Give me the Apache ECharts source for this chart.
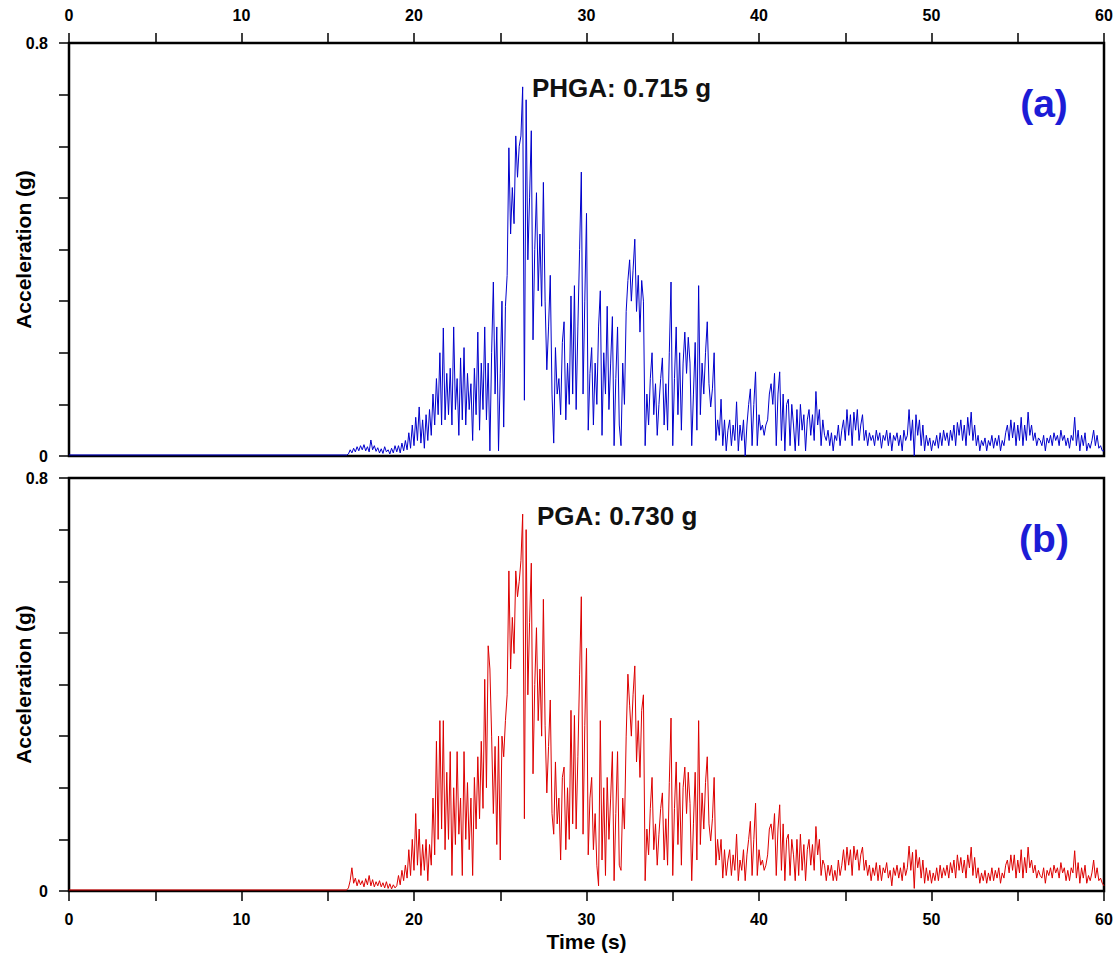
<!DOCTYPE html>
<html>
<head>
<meta charset="utf-8">
<script src="https://cdn.jsdelivr.net/npm/echarts@6/dist/echarts.min.js"></script>
<style>
html,body{margin:0;padding:0;background:#fff;}
#chart{width:1115px;height:956px;}
</style>
</head>
<body>
<div id="chart"></div>
<script>
// Sampling of the traces: first value at T_START, then every T_STEP seconds
const T_START = 16.0;
const T_STEP = 0.1;
const PRE_EVENT = [[0, 0.002]];   // quiet part before the first sample

// (a) horizontal component (blue), values in g, 16.0 s ... 60.0 s
const accA = [
  0.002,0.002,0.004,0.012,0.006,0.015,0.008,0.018,0.010,0.020,
  0.012,0.022,0.010,0.018,0.008,0.031,0.012,0.020,0.009,0.016,
  0.006,0.014,0.005,0.018,0.008,0.012,0.004,0.015,0.006,0.020,
  0.008,0.020,0.006,0.025,0.010,0.030,0.012,0.045,0.015,0.060,
  0.020,0.075,0.030,0.095,0.025,0.070,0.015,0.080,0.030,0.090,
  0.040,0.120,0.060,0.150,0.080,0.200,0.060,0.248,0.070,0.160,
  0.080,0.170,0.060,0.250,0.090,0.150,0.040,0.190,0.070,0.210,
  0.060,0.160,0.090,0.140,0.030,0.170,0.080,0.240,0.050,0.180,
  0.090,0.250,0.070,0.180,0.010,0.200,0.337,0.120,0.250,0.010,
  0.160,0.300,0.056,0.290,0.350,0.597,0.430,0.520,0.450,0.620,
  0.540,0.600,0.620,0.715,0.108,0.690,0.380,0.500,0.630,0.225,
  0.400,0.510,0.320,0.430,0.290,0.530,0.300,0.167,0.250,0.350,
  0.120,0.025,0.210,0.120,0.150,0.080,0.220,0.260,0.070,0.180,
  0.100,0.310,0.120,0.330,0.090,0.250,0.400,0.550,0.120,0.300,
  0.470,0.050,0.160,0.210,0.060,0.180,0.100,0.250,0.320,0.040,
  0.200,0.120,0.290,0.090,0.180,0.270,0.020,0.150,0.250,0.060,
  0.020,0.180,0.100,0.280,0.340,0.380,0.300,0.360,0.420,0.280,
  0.350,0.240,0.340,0.300,0.020,0.120,0.060,0.150,0.200,0.080,
  0.140,0.040,0.100,0.150,0.190,0.060,0.140,0.050,0.200,0.337,
  0.020,0.150,0.250,0.080,0.200,0.050,0.180,0.240,0.160,0.230,
  0.180,0.020,0.120,0.220,0.050,0.330,0.080,0.180,0.120,0.200,
  0.260,0.140,0.095,0.130,0.200,0.030,0.070,0.040,0.110,0.020,
  0.070,0.010,0.050,0.070,0.020,0.060,0.030,0.105,0.010,0.060,
  0.030,0.070,0.000,0.060,0.100,0.130,0.020,0.100,0.163,0.020,
  0.080,0.050,0.060,0.040,0.060,0.070,0.120,0.140,0.100,0.160,
  0.020,0.120,0.163,0.030,0.120,0.010,0.100,0.110,0.020,0.100,
  0.060,0.010,0.090,0.020,0.100,0.050,0.080,0.010,0.070,0.090,
  0.040,0.080,0.030,0.125,0.060,0.090,0.020,0.070,0.040,0.030,
  0.050,0.020,0.045,0.010,0.040,0.030,0.060,0.020,0.050,0.070,
  0.030,0.090,0.040,0.080,0.020,0.085,0.050,0.090,0.030,0.060,
  0.080,0.030,0.050,0.020,0.045,0.030,0.040,0.020,0.050,0.030,
  0.045,0.015,0.040,0.030,0.050,0.020,0.045,0.010,0.040,0.030,
  0.045,0.020,0.040,0.010,0.050,0.030,0.040,0.090,0.030,0.070,
  0.000,0.080,0.040,0.070,0.020,0.060,0.010,0.040,0.020,0.035,
  0.010,0.030,0.020,0.040,0.015,0.045,0.020,0.050,0.030,0.045,
  0.020,0.050,0.030,0.060,0.020,0.065,0.040,0.070,0.030,0.060,
  0.020,0.075,0.040,0.085,0.030,0.060,0.020,0.040,0.010,0.030,
  0.020,0.035,0.010,0.030,0.020,0.040,0.015,0.035,0.020,0.040,
  0.010,0.030,0.020,0.045,0.060,0.030,0.070,0.035,0.065,0.020,
  0.060,0.030,0.075,0.020,0.060,0.030,0.085,0.040,0.060,0.030,
  0.045,0.020,0.035,0.030,0.020,0.040,0.010,0.035,0.025,0.040,
  0.020,0.045,0.030,0.040,0.020,0.050,0.030,0.040,0.020,0.035,
  0.015,0.040,0.030,0.075,0.020,0.050,0.010,0.040,0.020,0.045,
  0.010,0.025,0.015,0.030,0.050,0.020,0.040,0.015,0.020,0.010,
  0.010
];

// (b) recorded ground acceleration (red), values in g, 16.0 s ... 60.0 s
const accB = [
  0.002,0.002,0.006,0.020,0.045,0.015,0.025,0.010,0.022,0.012,
  0.020,0.008,0.024,0.012,0.030,0.010,0.022,0.008,0.018,0.010,
  0.020,0.008,0.016,0.006,0.018,0.005,0.014,0.004,0.012,0.006,
  0.010,0.030,0.012,0.040,0.020,0.050,0.025,0.080,0.030,0.100,
  0.040,0.150,0.050,0.120,0.030,0.090,0.040,0.100,0.020,0.090,
  0.050,0.180,0.070,0.290,0.100,0.330,0.120,0.330,0.080,0.230,
  0.100,0.270,0.030,0.200,0.090,0.270,0.110,0.180,0.030,0.270,
  0.100,0.210,0.080,0.180,0.030,0.220,0.120,0.260,0.140,0.290,
  0.160,0.410,0.200,0.475,0.430,0.300,0.150,0.280,0.090,0.300,
  0.060,0.300,0.260,0.330,0.380,0.620,0.430,0.530,0.460,0.620,
  0.570,0.600,0.640,0.730,0.140,0.700,0.380,0.520,0.635,0.227,
  0.400,0.510,0.330,0.430,0.300,0.565,0.320,0.190,0.280,0.370,
  0.150,0.110,0.250,0.130,0.180,0.060,0.220,0.240,0.080,0.200,
  0.100,0.350,0.130,0.340,0.120,0.260,0.420,0.570,0.110,0.320,
  0.470,0.070,0.180,0.220,0.080,0.150,0.050,0.010,0.330,0.060,
  0.200,0.030,0.220,0.100,0.180,0.270,0.020,0.150,0.270,0.050,
  0.040,0.180,0.120,0.300,0.420,0.360,0.300,0.380,0.436,0.250,
  0.330,0.220,0.350,0.380,0.020,0.120,0.070,0.160,0.220,0.080,
  0.130,0.050,0.110,0.160,0.190,0.060,0.140,0.050,0.210,0.335,
  0.030,0.160,0.250,0.090,0.210,0.050,0.200,0.240,0.150,0.230,
  0.170,0.020,0.130,0.230,0.060,0.330,0.090,0.190,0.120,0.210,
  0.260,0.130,0.097,0.140,0.220,0.050,0.100,0.060,0.100,0.025,
  0.080,0.030,0.060,0.080,0.030,0.070,0.040,0.110,0.020,0.060,
  0.040,0.080,0.020,0.070,0.100,0.135,0.030,0.100,0.170,0.030,
  0.080,0.050,0.060,0.040,0.050,0.070,0.120,0.130,0.100,0.150,
  0.030,0.120,0.167,0.040,0.130,0.020,0.100,0.110,0.030,0.100,
  0.070,0.020,0.100,0.030,0.110,0.040,0.090,0.020,0.080,0.100,
  0.050,0.090,0.040,0.125,0.070,0.100,0.030,0.060,0.050,0.020,
  0.050,0.030,0.050,0.020,0.040,0.020,0.060,0.030,0.050,0.080,
  0.040,0.085,0.050,0.080,0.030,0.087,0.060,0.080,0.040,0.070,
  0.085,0.040,0.060,0.030,0.050,0.020,0.045,0.030,0.055,0.020,
  0.050,0.020,0.045,0.035,0.055,0.025,0.040,0.010,0.045,0.030,
  0.050,0.025,0.045,0.020,0.055,0.030,0.045,0.087,0.040,0.075,
  0.005,0.080,0.045,0.065,0.025,0.060,0.015,0.045,0.020,0.040,
  0.015,0.035,0.020,0.045,0.020,0.050,0.025,0.045,0.030,0.050,
  0.025,0.055,0.035,0.060,0.025,0.070,0.040,0.065,0.035,0.060,
  0.025,0.070,0.045,0.085,0.030,0.065,0.025,0.045,0.015,0.035,
  0.020,0.040,0.015,0.035,0.020,0.045,0.020,0.040,0.025,0.045,
  0.015,0.035,0.025,0.050,0.060,0.035,0.070,0.040,0.070,0.025,
  0.060,0.035,0.080,0.025,0.065,0.035,0.085,0.045,0.060,0.035,
  0.050,0.025,0.040,0.030,0.025,0.045,0.015,0.040,0.030,0.045,
  0.025,0.050,0.035,0.045,0.025,0.055,0.035,0.045,0.020,0.040,
  0.020,0.045,0.035,0.078,0.025,0.055,0.015,0.045,0.025,0.050,
  0.015,0.030,0.020,0.035,0.060,0.025,0.045,0.020,0.025,0.015,
  0.010
];

const xTickLabels = ['0','10','20','30','40','50','60'];
const yTickLabels = [0, 0.8];
const panelTexts = ['PHGA: 0.715 g', 'PGA: 0.730 g'];
const panelTags = ['(a)', '(b)'];

function toPairs(vals) {
  const out = PRE_EVENT.slice();
  vals.forEach((v, i) => out.push([+(T_START + i * T_STEP).toFixed(2), v]));
  return out;
}

const FONT = '"Liberation Sans", Arial, sans-serif';
const labelStyle = { color: '#000', fontFamily: FONT, fontWeight: 'bold', fontSize: 16 };
const xFmt = v => xTickLabels.indexOf(String(v)) >= 0 ? String(v) : '';
const yFmt = v => yTickLabels.some(l => Math.abs(l - v) < 1e-6) ? String(+(+v).toFixed(1)) : '';

function xAxisCfg(grid, pos, extra) {
  return Object.assign({
    gridIndex: grid, type: 'value', position: pos, min: 0, max: 60, interval: 5,
    axisLine: { show: false, onZero: false },
    axisTick: { show: true, inside: false, length: 10, lineStyle: { color: '#000', width: 1.5 } },
    axisLabel: Object.assign({ formatter: xFmt, margin: 20 }, labelStyle),
    splitLine: { show: false }
  }, extra || {});
}
function yAxisCfg(grid) {
  return {
    gridIndex: grid, type: 'value', min: 0, max: 0.8, interval: 0.1,
    name: 'Acceleration (g)', nameLocation: 'middle', nameGap: 35, nameMoveOverlap: false,
    nameTextStyle: { color: '#000', fontFamily: FONT, fontWeight: 'bold', fontSize: 21 },
    axisLine: { show: false, onZero: false },
    axisTick: { show: true, inside: false, length: 10, lineStyle: { color: '#000', width: 1.5 } },
    axisLabel: Object.assign({ formatter: yFmt, margin: 21 }, labelStyle),
    splitLine: { show: false }
  };
}

const gridBase = { left: 69, width: 1035, height: 413, show: true, borderColor: '#000', borderWidth: 2.5,
  backgroundColor: 'rgba(0,0,0,0)', containLabel: false, outerBoundsMode: 'none' };

const chart = echarts.init(document.getElementById('chart'), null, { renderer: 'svg' });
chart.setOption({
  animation: false,
  backgroundColor: '#fff',
  grid: [
    Object.assign({ top: 43 }, gridBase),
    Object.assign({ top: 478 }, gridBase)
  ],
  xAxis: [
    xAxisCfg(0, 'top'),
    xAxisCfg(1, 'bottom', {
      name: 'Time (s)', nameLocation: 'middle', nameGap: 40, nameMoveOverlap: false,
      nameTextStyle: { color: '#000', fontFamily: FONT, fontWeight: 'bold', fontSize: 21 }
    })
  ],
  yAxis: [yAxisCfg(0), yAxisCfg(1)],
  series: [
    { type: 'line', xAxisIndex: 0, yAxisIndex: 0, data: toPairs(accA), showSymbol: false, symbol: 'none',
      sampling: null, lineStyle: { color: '#0000cc', width: 1 }, z: 1 },
    { type: 'line', xAxisIndex: 1, yAxisIndex: 1, data: toPairs(accB), showSymbol: false, symbol: 'none',
      sampling: null, lineStyle: { color: '#dd0000', width: 1 }, z: 1 }
  ],
  graphic: [
    { type: 'text', x: 532, y: 88, style: { text: panelTexts[0], font: 'bold 26px ' + FONT, fill: '#111', align: 'left', verticalAlign: 'middle' } },
    { type: 'text', x: 1044, y: 103, style: { text: panelTags[0], font: 'bold 39px ' + FONT, fill: '#1c1cd6', align: 'center', verticalAlign: 'middle' } },
    { type: 'text', x: 537, y: 516, style: { text: panelTexts[1], font: 'bold 26px ' + FONT, fill: '#111', align: 'left', verticalAlign: 'middle' } },
    { type: 'text', x: 1044, y: 538, style: { text: panelTags[1], font: 'bold 39px ' + FONT, fill: '#1c1cd6', align: 'center', verticalAlign: 'middle' } }
  ]
});
</script>
</body>
</html>
